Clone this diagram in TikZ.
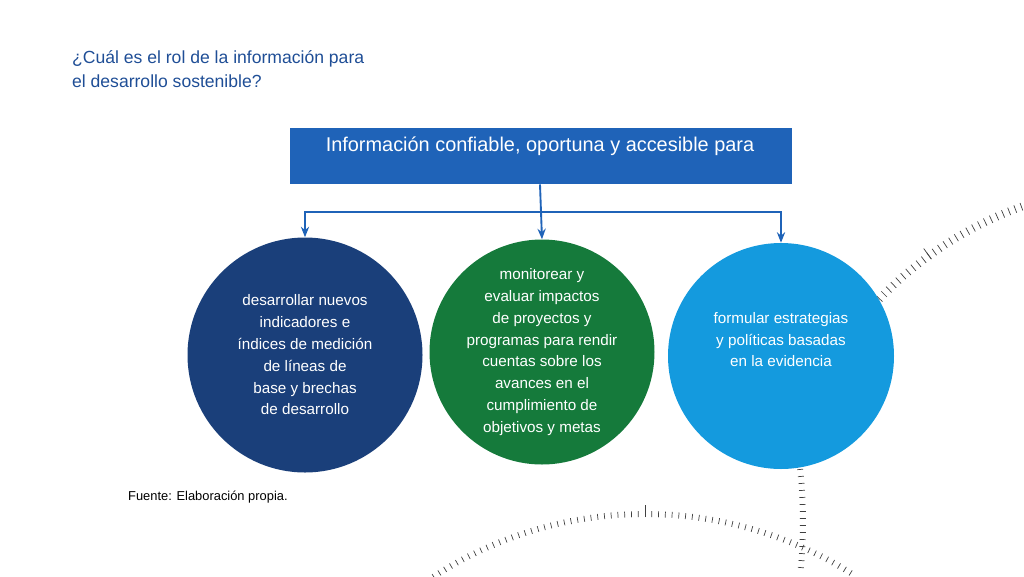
\documentclass[tikz,border=0pt]{standalone}
\usepackage{fontspec}
\setmainfont{Liberation Sans}
\usetikzlibrary{arrows.meta}
\definecolor{titleblue}{HTML}{1F4E96}
\definecolor{boxblue}{HTML}{1F63B8}
\definecolor{navy}{HTML}{1A3F7A}
\definecolor{leafgreen}{HTML}{157A3B}
\definecolor{skyblue}{HTML}{149ADE}
\tikzset{
  bubble/.style={circle, minimum size=#1, inner sep=0pt, text=white, align=center,
    font=\fontsize{13}{18.6}\selectfont},
  link/.style={boxblue, line width=1.6pt, -{Stealth[length=9pt,width=7pt]}},
  tick/.style={black!75, line width=0.6pt}
}
\begin{document}
\begin{tikzpicture}[x=0.03cm, y=-0.03cm]
    \useasboundingbox (0,0) rectangle (1024,576);

    % decorative tick arcs
    \foreach \a in {58,59,...,124}
      \draw [tick] ([shift={(645,902)}]-\a:385) -- ([shift={(645,902)}]-\a:391);
    \draw [tick] ([shift={(645,902)}]-90:385) -- ([shift={(645,902)}]-90:397);
    \foreach \a in {-6,-5.2,...,6}
      \draw [tick] ([shift={(300,522)}]\a:500) -- ([shift={(300,522)}]\a:506);
    \foreach \a in {107,108,...,140}
      \draw [tick] ([shift={(1150,560)}]-\a:372) -- ([shift={(1150,560)}]-\a:380);
    \draw [tick] ([shift={(1150,560)}]-126:372) -- ([shift={(1150,560)}]-126:385);

    \node [anchor=north west, align=left, text=titleblue, font=\fontsize{15}{21}\selectfont]
      (title) at (68,46) {¿Cuál es el rol de la información para\\el desarrollo sostenible?};

    \node [fill=boxblue, minimum width=502*0.03cm, minimum height=56*0.03cm, text=white,
      anchor=north west, font=\fontsize{17}{20}\selectfont, inner sep=0pt]
      (info) at (290,128) {};
    \node [text=white, font=\fontsize{17}{20}\selectfont] (infotxt) at (540,146)
      {Información confiable, oportuna y accesible para};

    \node [bubble=235*0.03cm, fill=navy] (indic) at (305,355)
      {desarrollar nuevos\\indicadores e\\índices de medición\\de líneas de\\base y brechas\\de desarrollo};
    \node [bubble=225*0.03cm, fill=leafgreen] (monit) at (542,352)
      {monitorear y\\evaluar impactos\\de proyectos y\\programas para rendir\\cuentas sobre los\\avances en el\\cumplimiento de\\objetivos y metas};
    \node [bubble=226*0.03cm, fill=skyblue] (form) at (781,356)
      {\\formular estrategias\\y políticas basadas\\en la evidencia\\\\};

    \coordinate (split) at (540,212);
    \draw [link] (info.south -| split) -- (monit.north);
    \draw [link] (split) -| (indic.north);
    \draw [link] (split) -| (form.north);

    \node [anchor=west, font=\fontsize{11}{13}\selectfont] (src) at (124,497)
      {Fuente: Elaboración propia.};
\end{tikzpicture}
\end{document}
